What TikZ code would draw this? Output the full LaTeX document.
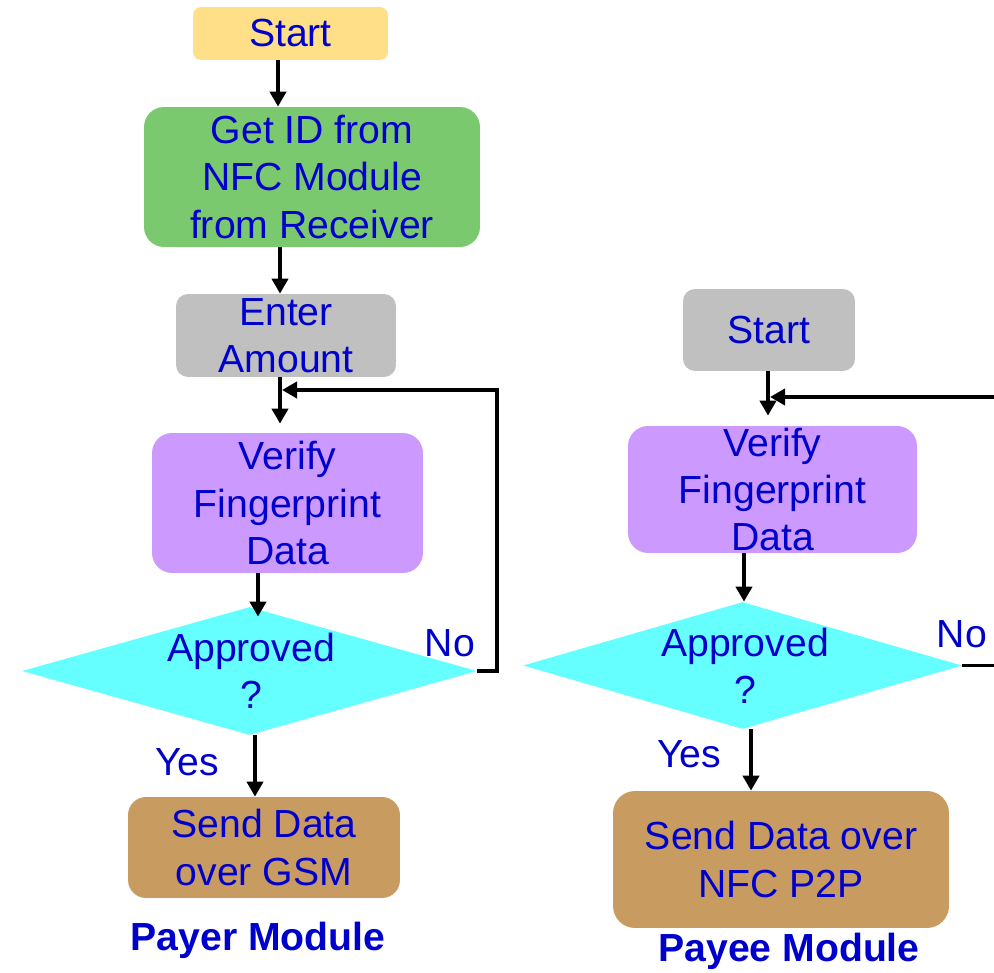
\documentclass[tikz,border=0pt]{standalone}
\usepackage{fontspec}
\setmainfont{Liberation Sans}
\usetikzlibrary{arrows.meta,shapes.geometric}
\definecolor{txtblue}{HTML}{0000CC}
\definecolor{startyellow}{HTML}{FFDF88}
\definecolor{getgreen}{HTML}{7BC96F}
\definecolor{boxgray}{HTML}{C0C0C0}
\definecolor{verifypurple}{HTML}{CC99FF}
\definecolor{deccyan}{HTML}{66FFFF}
\definecolor{sendtan}{HTML}{C89B60}
\begin{document}
\begin{tikzpicture}[x=0.02cm,y=-0.02cm,
  every node/.style={text=txtblue,font=\fontsize{22.3}{26.8}\selectfont,align=center,inner sep=0pt},
  box/.style={rounded corners=0.4cm},
  decision/.style={diamond,fill=deccyan},
  arr/.style={-{Triangle[length=0.3cm,width=0.32cm]},line width=0.075cm}]
  \useasboundingbox (0,0) rectangle (994,973);
  \clip (0,0) rectangle (994,973);

  % Payer Module
  \node[box,fill=startyellow,minimum width=3.9cm,minimum height=1.06cm,rounded corners=0.16cm] (startA) at (290.5,33.5) {Start};
  \node[box,fill=getgreen,minimum width=6.72cm,minimum height=2.8cm] (getid) at (312,177) {Get ID from\\NFC Module\\from Receiver};
  \node[box,fill=boxgray,minimum width=4.4cm,minimum height=1.66cm,rounded corners=0.24cm] (enter) at (286,335.5) {Enter\\Amount};
  \node[box,fill=verifypurple,minimum width=5.42cm,minimum height=2.8cm] (verifyA) at (287.5,503) {Verify\\Fingerprint\\Data};
  \node[decision,minimum width=9.1cm,minimum height=2.56cm] (decA) at (249.5,671) {};
  \node (decAtext) at (251,671) {Approved\\?};
  \node (noA) at (450,643) {No};
  \node (yesA) at (187,762) {Yes};
  \node[box,fill=sendtan,minimum width=5.44cm,minimum height=2.02cm,rounded corners=0.36cm] (sendA) at (264,847.5) {Send Data\\over GSM};
  \node[font=\bfseries\fontsize{22.3}{26.8}\selectfont] (payer) at (258,940) {Payer Module};

  \coordinate (loopA) at (282,390);
  \draw[arr] (startA.south -| 278,0) -- (getid.north -| 278,0);
  \draw[arr] (getid.south -| 280,0) -- (enter.north -| 280,0);
  \draw[arr,shorten >=0.18cm] (enter.south -| 280,0) -- (verifyA.north -| 280,0);
  \draw[arr,shorten >=-0.2cm] (verifyA.south -| 258,0) -- (decA.north -| 258,0);
  \draw[arr] (decA.south -| 255,0) -- (sendA.north -| 255,0);
  \draw[arr] (decA.east) -- ++(20,0) |- (loopA);

  % Payee Module
  \node[box,fill=boxgray,minimum width=3.44cm,minimum height=1.64cm,rounded corners=0.24cm] (startB) at (769,330) {Start};
  \node[box,fill=verifypurple,minimum width=5.78cm,minimum height=2.54cm] (verifyB) at (772.5,489.5) {Verify\\Fingerprint\\Data};
  \node[decision,minimum width=8.78cm,minimum height=2.54cm] (decB) at (742.5,665.5) {};
  \node (decBtext) at (745,666) {Approved\\?};
  \node (noB) at (962,634) {No};
  \node (yesB) at (689,754) {Yes};
  \node[box,fill=sendtan,minimum width=6.72cm,minimum height=2.74cm,rounded corners=0.44cm] (sendB) at (781,859.5) {Send Data over\\NFC P2P};
  \node[font=\bfseries\fontsize{22.3}{26.8}\selectfont] (payee) at (789,951) {Payee Module};

  \coordinate (loopB) at (770,397);
  \draw[arr,shorten >=0.2cm] (startB.south -| 768,0) -- (verifyB.north -| 768,0);
  \draw[arr] (verifyB.south -| 744,0) -- (decB.north -| 744,0);
  \draw[arr] (decB.south -| 751,0) -- (sendB.north -| 751,0);
  \draw[arr] (decB.east) -- ++(60,0) |- (loopB);
\end{tikzpicture}
\end{document}
